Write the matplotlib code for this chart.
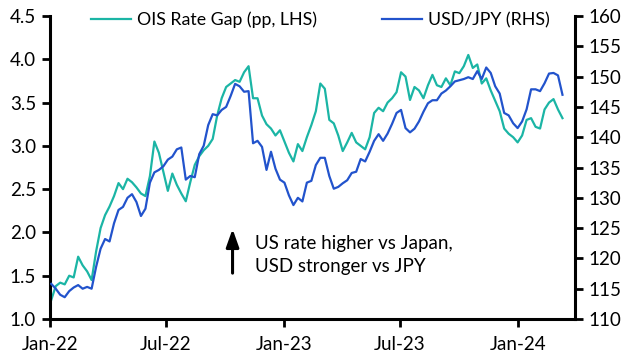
import numpy as np
import pandas as pd
import matplotlib
matplotlib.use("Agg")
import matplotlib.pyplot as plt
import matplotlib.dates as mdates

plt.rcParams['font.family'] = ['Lato', 'DejaVu Sans']

# weekly readings, first week 3 Jan 2022
start = "2022-01-03"
ois_gap = [1.22, 1.38, 1.42, 1.40, 1.50, 1.48, 1.72, 1.62, 1.55, 1.45,
           1.78, 2.05, 2.20, 2.30, 2.42, 2.57, 2.50, 2.62, 2.58, 2.52,
           2.45, 2.42, 2.65, 3.05, 2.92, 2.70, 2.48, 2.68, 2.55, 2.45,
           2.36, 2.58, 2.78, 2.88, 2.95, 3.00, 3.08, 3.35, 3.55, 3.68,
           3.72, 3.76, 3.74, 3.85, 3.92, 3.55, 3.55, 3.35, 3.25, 3.20,
           3.12, 3.18, 3.05, 2.92, 2.82, 3.02, 2.94, 3.10, 3.24, 3.40,
           3.72, 3.66, 3.30, 3.26, 3.12, 2.94, 3.04, 3.15, 3.04, 3.00,
           2.96, 3.10, 3.38, 3.44, 3.40, 3.50, 3.55, 3.62, 3.85, 3.80,
           3.53, 3.68, 3.64, 3.55, 3.70, 3.82, 3.70, 3.68, 3.78, 3.70,
           3.86, 3.84, 3.92, 4.05, 3.90, 3.94, 3.72, 3.78, 3.64, 3.52,
           3.40, 3.20, 3.14, 3.10, 3.04, 3.12, 3.30, 3.32, 3.22, 3.20,
           3.42, 3.50, 3.54, 3.42, 3.32]
usdjpy = [115.8, 115.0, 114.0, 113.6, 114.6, 115.2, 115.6, 115.0, 115.3, 115.0,
          118.6, 121.6, 123.2, 122.8, 125.8, 128.0, 128.5, 130.0, 130.6, 129.3,
          127.0, 128.2, 132.5, 134.2, 134.6, 135.2, 136.3, 136.8, 138.0, 138.3,
          133.0, 133.6, 133.4, 137.2, 138.6, 142.0, 143.8, 143.6, 144.5, 145.0,
          146.8, 148.8, 148.4, 147.5, 147.6, 139.0, 139.4, 138.4, 134.6, 137.6,
          134.8, 133.0, 132.5, 130.4, 128.8, 130.0, 129.4, 132.5, 132.8, 135.4,
          136.6, 136.6, 133.6, 131.5, 131.8, 132.4, 132.9, 134.1, 134.3, 136.4,
          136.0, 137.6, 139.4, 140.5, 139.4, 140.6, 142.2, 144.0, 144.5, 141.5,
          140.8, 141.4, 142.6, 144.2, 145.6, 146.1, 146.1, 147.2, 147.7, 148.4,
          149.2, 149.4, 149.6, 149.9, 149.6, 150.9, 149.6, 151.5, 150.6, 148.4,
          147.2, 144.0, 143.6, 142.3, 141.5, 142.6, 144.6, 147.9, 147.9, 147.6,
          148.9, 150.5, 150.6, 150.2, 147.0]
dates = pd.date_range(start, periods=len(ois_gap), freq="7D")

teal = "#1bb5a5"
blue = "#2253cc"

fig = plt.figure(figsize=(6.31, 3.61), dpi=100)
ax = fig.add_axes([0.0792, 0.1163, 0.8315, 0.8394])
ax2 = ax.twinx()

l1, = ax.plot(dates, ois_gap, color=teal, lw=1.6, label="OIS Rate Gap (pp, LHS)")
l2, = ax2.plot(dates, usdjpy, color=blue, lw=1.6, label="USD/JPY (RHS)")

ax.set_ylim(1.0, 4.5)
ax.set_yticks(np.arange(1.0, 4.51, 0.5))
ax.set_yticklabels([f"{v:.1f}" for v in np.arange(1.0, 4.51, 0.5)])
ax2.set_ylim(110, 160)
ax2.set_yticks(range(110, 161, 5))

ax.set_xlim(pd.Timestamp("2022-01-01"), pd.Timestamp("2024-03-30"))
ax.set_xticks(pd.to_datetime(["2022-01-01", "2022-07-01", "2023-01-01",
                              "2023-07-01", "2024-01-01"]))
ax.xaxis.set_major_formatter(mdates.DateFormatter("%b-%y"))

for a in (ax, ax2):
    a.spines["top"].set_visible(False)
    for s in ("left", "right", "bottom"):
        a.spines[s].set_linewidth(2.2)
    a.tick_params(axis="both", direction="out", length=6, width=2,
                  labelsize=13.5, colors="black", pad=4)
ax.spines["right"].set_visible(False)
ax2.spines["left"].set_visible(False)
ax2.spines["bottom"].set_visible(False)
ax.tick_params(axis="x", pad=6)

ax.annotate("", xy=(pd.Timestamp("2022-10-13"), 2.04),
            xytext=(pd.Timestamp("2022-10-13"), 1.53),
            arrowprops=dict(arrowstyle="-|>,head_length=0.9,head_width=0.32",
                            color="black", lw=2.2, mutation_scale=12,
                            shrinkA=0, shrinkB=0))
ax.text(pd.Timestamp("2022-11-17"), 1.74, "US rate higher vs Japan,\nUSD stronger vs JPY",
        fontsize=13.5, va="center", ha="left", linespacing=1.4)

fig.legend(handles=[l1, l2], loc="center", bbox_to_anchor=(0.508, 0.945),
           ncol=2, frameon=False, fontsize=12.8, handlelength=2.25,
           columnspacing=3.65, handletextpad=0.35)

fig.savefig("out.png", dpi=100)
